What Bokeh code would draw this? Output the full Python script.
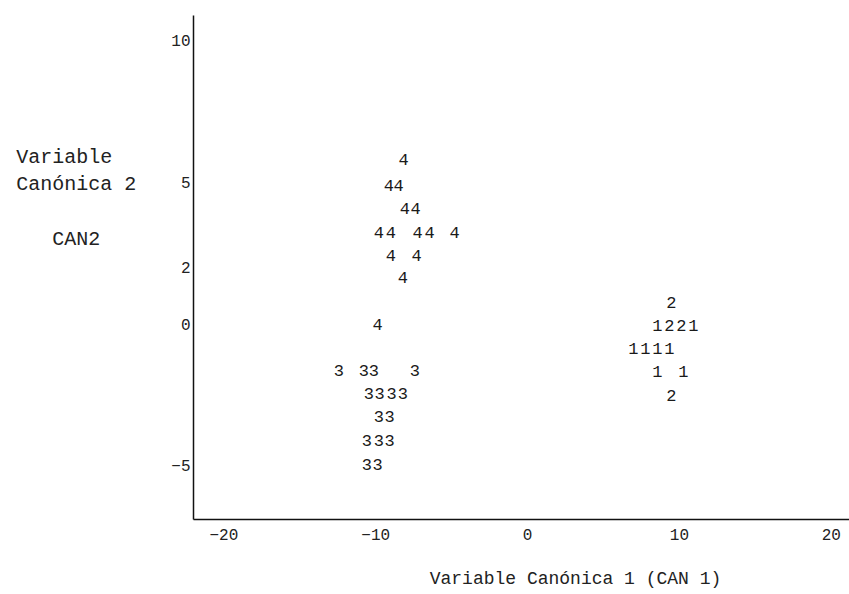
from bokeh.plotting import figure
from bokeh.models import ColumnDataSource, FixedTicker, Range1d
from bokeh.core.properties import value
from bokeh.embed import file_html
from bokeh.resources import INLINE

# ---- data ----
g1_can1 = [8.55, 10.92, 6.97, 7.76, 8.55, 9.34, 8.55, 10.26]
g1_can2 = [-0.04, -0.04, -0.85, -0.85, -0.85, -0.85, -1.66, -1.66]

g2_can1 = [9.47, 9.34, 10.13, 9.47]
g2_can2 = [0.78, -0.04, -0.04, -2.51]

g3_can1 = [-12.43, -10.79, -10.13, -7.43, -10.46, -9.74, -8.95, -8.22,
           -9.80, -9.08, -10.59, -9.80, -9.08, -10.59, -9.87]
g3_can2 = [-1.63, -1.63, -1.63, -1.63, -2.44, -2.44, -2.44, -2.44,
           -3.25, -3.25, -4.10, -4.10, -4.10, -4.95, -4.95]

g4_can1 = [-8.16, -9.14, -8.49, -8.09, -7.37, -9.80, -9.01, -7.24, -6.45,
           -4.80, -9.01, -7.30, -8.22, -9.87]
g4_can2 = [5.80, 4.91, 4.91, 4.10, 4.10, 3.25, 3.25, 3.25, 3.25, 3.25,
           2.44, 2.44, 1.63, 0.00]

group_labels = ["1", "2", "3", "4"]
x_ticks = [-20, -10, 0, 10, 20]
y_ticks = [-5, 0, 2, 5, 10]

x_title = "Variable Canónica 1 (CAN 1)"
y_title_lines = ["Variable", "Canónica 2", "", "CAN2"]

# ---- figure ----
p = figure(width=849, height=594, output_backend="svg", toolbar_location=None,
           x_range=Range1d(-22.0, 21.2), y_range=Range1d(-6.9, 10.9),
           min_border_left=193, min_border_right=0, min_border_top=15,
           min_border_bottom=75)
p.background_fill_color = "white"
p.border_fill_color = "white"
p.outline_line_color = None
p.grid.visible = False

mono = "Liberation Mono"
nb = "\u00a0"

for ax in (p.xaxis[0], p.yaxis[0]):
    ax.axis_line_color = "#111111"
    ax.axis_line_width = 1.5
    ax.major_tick_line_color = None
    ax.minor_tick_line_color = None
    ax.major_tick_out = 0
    ax.major_tick_in = 0
    ax.minor_tick_out = 0
    ax.minor_tick_in = 0
    ax.major_label_text_font = mono
    ax.major_label_text_font_size = "16px"
    ax.major_label_text_color = "#222222"
    ax.axis_label_text_font = mono
    ax.axis_label_text_font_style = "normal"
    ax.axis_label_text_color = "#222222"

p.xaxis.ticker = FixedTicker(ticks=x_ticks)
p.yaxis.ticker = FixedTicker(ticks=y_ticks)
p.xaxis.major_label_standoff = 9
p.yaxis.major_label_standoff = 3

# x title, shifted right with non-breaking spaces (label is centred on the frame)
p.xaxis.axis_label = nb * 10 + x_title
p.xaxis.axis_label_text_font_size = "18px"
p.xaxis.axis_label_standoff = 26

# y title: horizontal block; lines padded to equal width (monospace) so the
# block reads left-justified with CAN2 centred; trailing blank lines raise it
width = max(len(s) for s in y_title_lines)
padded = [y_title_lines[0].ljust(width, nb), y_title_lines[1], nb,
          (nb * 3 + y_title_lines[3]).ljust(width, nb)]
p.yaxis.axis_label = "\n".join(padded + [nb] * 5)
p.yaxis.axis_label_orientation = "horizontal"
p.yaxis.axis_label_text_font_size = "20px"
p.yaxis.axis_label_standoff = 32

groups = [(g1_can1, g1_can2), (g2_can1, g2_can2), (g3_can1, g3_can2), (g4_can1, g4_can2)]
for lab, (xs, ys) in zip(group_labels, groups):
    src = ColumnDataSource(dict(x=xs, y=ys, t=[lab] * len(xs)))
    p.text(x="x", y="y", text="t", source=src, text_font=value(mono),
           text_font_size="17px", text_color="#1a1a1a",
           text_align="center", text_baseline="middle")

open("out.html", "w").write(file_html(p, INLINE))
